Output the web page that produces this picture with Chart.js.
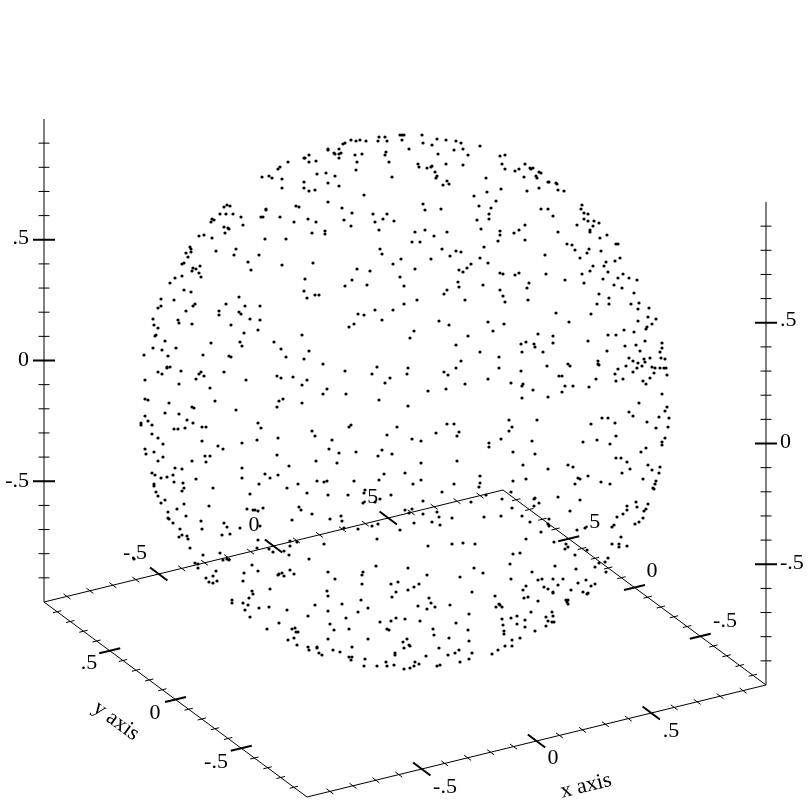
<!DOCTYPE html>
<html>
<head>
<meta charset="utf-8">
<title>Points on a sphere</title>
<script src="https://cdn.jsdelivr.net/npm/chart.js@4/dist/chart.umd.min.js"></script>
<style>
  html, body { margin: 0; padding: 0; background: #fff; }
  canvas { display: block; }
</style>
</head>
<body>
<canvas id="sphere" width="812" height="812"></canvas>
<script>
// Dots, in projected plot units, grouped by region
const dotsTopLeft = [[309,155],[305,158],[304,158],[309,162],[288,162],[280,167],[278,169],[262,177],[269,176],[272,178],[282,179],[304,182],[304,188],[282,188],[309,191],[227,205],[230,206],[224,207],[296,206],[299,207],[266,209],[266,210],[220,214],[226,214],[233,214],[241,217],[261,217],[263,217],[280,217],[212,219],[214,220],[211,222],[308,219],[294,222],[243,225],[224,227],[228,228],[229,229],[225,233],[204,235],[199,236],[212,238],[265,239],[286,239],[190,247],[191,249],[191,252],[186,253],[188,257],[216,251],[236,249],[234,255],[259,255],[248,262],[184,263],[182,264],[200,266],[193,268],[196,269],[192,271],[251,270],[282,265],[199,273],[201,277],[182,276],[175,278],[170,283],[305,279],[184,290],[191,292],[304,291],[307,298],[161,299],[174,300],[239,297],[195,304],[226,304]];
const dotsTopMiddle = [[400,135],[402,135],[404,135],[422,135],[379,137],[385,137],[402,140],[437,139],[446,140],[456,141],[461,143],[423,143],[432,145],[480,146],[351,140],[356,141],[360,140],[366,141],[378,141],[387,141],[345,143],[343,144],[409,149],[454,150],[463,149],[328,149],[328,150],[339,149],[334,153],[335,154],[339,154],[341,153],[386,152],[385,155],[355,155],[362,154],[339,158],[438,154],[468,155],[357,162],[389,162],[316,161],[418,164],[419,167],[446,164],[463,165],[427,168],[431,167],[432,166],[356,170],[435,172],[317,174],[326,173],[335,176],[437,176],[436,178],[392,177],[486,178],[447,181],[449,184],[443,185],[328,183],[339,186],[315,190],[487,192],[364,195],[474,196],[328,202],[423,204],[479,206],[342,208],[425,210],[441,209],[352,213],[373,214],[387,214],[489,214],[383,219],[375,222],[344,220],[316,222],[394,221],[477,220],[489,219],[351,226],[379,230],[425,230],[415,232],[481,229],[325,231],[325,234],[312,233],[434,236],[447,232],[412,242],[420,242],[380,249],[382,254],[442,249],[456,251],[461,252],[450,256],[484,247],[480,258],[393,264],[401,259],[431,259],[313,263],[488,263],[471,264],[467,268],[459,270],[463,272],[357,269],[370,271],[415,269],[400,277],[352,280],[458,282],[459,287],[367,285],[345,286],[404,286],[483,285],[447,290],[444,294],[315,295],[319,295],[417,300],[465,300],[404,304]];
const dotsTopRight = [[500,156],[505,155],[502,164],[505,169],[525,164],[515,171],[519,169],[530,168],[531,169],[533,168],[539,172],[541,173],[524,177],[536,176],[537,178],[548,182],[549,182],[556,183],[557,184],[558,190],[564,191],[539,188],[527,191],[501,189],[496,201],[491,208],[541,209],[548,209],[553,216],[582,205],[581,209],[584,213],[588,214],[584,219],[588,221],[594,221],[599,223],[577,225],[593,226],[525,225],[519,230],[514,233],[500,231],[500,235],[498,241],[525,240],[558,232],[590,230],[590,232],[607,235],[600,238],[567,244],[572,245],[575,250],[589,249],[587,253],[601,251],[616,244],[618,244],[580,258],[545,255],[620,258],[615,261],[606,262],[604,266],[593,266],[500,273],[503,274],[515,275],[519,273],[546,274],[582,274],[590,271],[608,272],[623,274],[629,278],[618,278],[637,280],[603,279],[565,280],[529,283],[584,283],[614,285],[622,288],[527,288],[500,290],[599,294],[634,293],[503,296],[505,302],[528,300],[609,298],[597,304],[609,304],[631,304],[639,303]];
const dotsMidLeft = [[158,308],[161,306],[186,311],[193,306],[219,311],[219,315],[239,312],[241,314],[245,306],[260,306],[250,319],[260,320],[153,319],[178,320],[179,323],[192,324],[154,325],[158,328],[231,325],[258,330],[244,333],[156,335],[155,336],[302,335],[165,341],[240,342],[211,343],[274,342],[153,348],[176,348],[242,346],[281,349],[162,350],[309,351],[168,356],[144,355],[203,355],[229,356],[231,357],[286,357],[304,359],[170,367],[167,367],[167,368],[158,372],[162,374],[181,371],[201,372],[199,374],[204,376],[224,372],[196,379],[145,380],[277,376],[281,378],[293,377],[307,380],[246,380],[179,384],[302,385],[210,388],[283,399],[279,401],[145,399],[148,400],[215,401],[169,403],[302,403],[277,407],[192,407],[194,408],[236,410],[165,413],[179,414],[145,416],[187,420],[148,421],[141,423],[141,425],[152,425],[193,423],[258,423],[174,429],[178,429],[185,428],[202,427],[206,427],[261,428],[152,434],[158,438],[278,438],[202,441],[257,440],[163,444],[242,443],[218,446],[223,449],[145,449],[146,454],[154,452],[277,455],[205,456],[210,456],[163,457],[158,461],[192,461],[206,462],[289,466],[175,468],[182,469],[242,468],[152,473],[155,475],[173,475],[161,478],[167,477],[242,478],[265,474],[270,478],[278,475],[196,479],[154,484],[174,482],[183,483],[259,484],[298,484]];
const dotsMidMiddle = [[358,314],[364,315],[375,310],[393,310],[382,320],[354,324],[349,327],[439,321],[449,325],[488,322],[414,331],[410,338],[468,336],[456,345],[480,352],[461,361],[323,364],[377,367],[408,368],[456,368],[345,371],[372,374],[407,374],[444,372],[448,375],[390,378],[385,383],[488,379],[465,384],[327,389],[323,394],[346,394],[428,391],[446,389],[379,400],[408,406],[351,425],[349,427],[397,427],[447,424],[454,424],[312,431],[315,436],[387,435],[459,432],[436,433],[457,436],[332,440],[412,439],[421,441],[329,449],[339,453],[356,452],[382,450],[392,454],[378,456],[316,461],[337,463],[421,463],[457,461],[384,474],[405,473],[480,476],[317,481],[324,482],[327,481],[354,481],[379,480],[421,480],[413,484],[454,484],[480,483],[489,443],[489,447]];
const dotsMidRight = [[556,313],[591,314],[649,308],[638,309],[648,317],[656,319],[504,324],[569,322],[638,321],[652,324],[647,327],[646,329],[624,330],[634,332],[493,331],[538,334],[553,336],[608,335],[616,335],[588,341],[553,343],[526,342],[521,344],[534,344],[535,347],[645,341],[662,343],[662,348],[625,346],[636,345],[607,351],[640,351],[522,352],[543,352],[660,352],[499,357],[629,358],[633,361],[644,359],[650,358],[661,358],[665,359],[638,363],[645,362],[598,361],[598,364],[599,365],[568,364],[570,366],[547,366],[499,368],[626,366],[618,369],[637,368],[642,366],[652,367],[655,368],[660,368],[664,368],[666,368],[521,371],[633,372],[654,373],[615,374],[667,375],[559,376],[562,376],[650,378],[623,379],[616,381],[596,379],[643,381],[646,384],[511,383],[523,384],[522,386],[565,386],[573,386],[589,387],[533,390],[562,392],[522,398],[548,397],[662,394],[639,403],[667,407],[665,411],[629,412],[633,416],[659,417],[669,418],[602,418],[608,418],[509,420],[537,420],[647,422],[615,423],[591,424],[512,427],[509,431],[656,428],[668,427],[616,436],[501,439],[665,438],[532,441],[583,442],[597,440],[610,444],[662,442],[662,445],[513,452],[535,454],[646,448],[641,452],[616,458],[621,458],[627,462],[523,465],[548,469],[568,465],[573,467],[648,465],[660,467],[630,469],[652,470],[659,473],[622,473],[588,476],[578,478],[580,479],[643,479],[656,481],[513,481],[526,479],[601,482],[575,484],[610,484],[655,484]];
const dotsLowLeft = [[154,486],[156,492],[158,496],[165,500],[161,503],[184,488],[182,491],[213,488],[250,494],[287,488],[307,493],[209,506],[184,504],[177,509],[168,512],[247,509],[253,510],[255,510],[258,511],[263,508],[299,507],[301,510],[186,516],[168,518],[169,519],[173,523],[201,521],[202,529],[180,529],[224,523],[227,527],[240,528],[260,526],[292,520],[222,535],[230,534],[182,535],[187,536],[179,537],[188,539],[258,540],[190,548],[257,548],[290,546],[290,541],[297,542],[220,553],[203,555],[269,549],[273,552],[284,551],[195,563],[198,564],[198,568],[223,560],[227,559],[229,560],[289,555],[309,559],[252,565],[216,571],[244,573],[258,571],[213,576],[206,578],[209,582],[213,583],[217,581],[243,581],[278,575],[279,574],[282,573],[284,576],[290,570],[294,574],[270,589],[252,591],[253,594],[249,598],[232,600],[232,603],[243,603],[248,605],[245,610],[259,608],[269,607],[287,610],[250,617],[308,616],[279,623],[267,629],[292,629],[295,628],[296,632],[298,632],[294,638],[288,640],[297,645],[308,647],[309,650],[134,559]];
const dotsLowMiddle = [[328,495],[348,495],[364,493],[365,490],[363,503],[375,502],[380,499],[391,495],[423,501],[442,492],[479,487],[471,502],[486,495],[312,514],[330,519],[341,516],[342,521],[358,529],[344,528],[372,526],[378,524],[405,510],[412,509],[409,513],[423,514],[437,512],[439,517],[452,518],[484,517],[400,530],[414,523],[432,522],[440,525],[377,539],[324,544],[428,546],[452,544],[463,543],[475,544],[376,566],[408,568],[474,568],[328,572],[363,572],[362,575],[483,573],[427,575],[460,577],[335,579],[362,584],[391,584],[398,582],[419,584],[414,587],[408,590],[472,592],[396,592],[327,591],[328,596],[392,597],[361,600],[429,598],[431,603],[315,605],[342,604],[418,606],[435,607],[427,609],[450,605],[368,608],[358,612],[328,611],[469,614],[346,618],[380,622],[391,621],[396,618],[405,619],[420,621],[456,623],[330,624],[334,630],[349,629],[387,629],[389,630],[433,629],[468,630],[434,635],[328,639],[368,639],[449,638],[407,639],[403,642],[469,641],[409,645],[410,646],[404,648],[317,647],[317,648],[352,647],[333,650],[439,648],[340,652],[319,653],[322,655],[395,653],[395,655],[426,656],[448,655],[455,653],[459,650],[472,653],[349,657],[352,657],[351,660],[365,659],[460,662],[469,659],[386,662],[415,662],[364,666],[377,666],[387,666],[394,665],[419,664],[414,666],[437,666],[440,665],[404,669],[410,668]];
const dotsLowRight = [[511,492],[502,499],[534,499],[535,498],[558,497],[580,500],[539,503],[512,508],[534,506],[570,511],[501,516],[522,516],[549,519],[530,522],[548,524],[549,526],[577,530],[585,528],[541,532],[526,539],[554,542],[566,544],[565,549],[568,547],[587,550],[575,555],[513,554],[520,553],[510,564],[595,567],[599,563],[605,562],[608,558],[606,572],[555,566],[576,569],[532,572],[511,579],[538,580],[542,579],[553,579],[563,579],[586,580],[578,583],[558,585],[544,587],[548,589],[591,586],[595,584],[571,590],[583,592],[588,593],[587,594],[553,592],[553,593],[523,590],[526,586],[524,598],[528,597],[538,601],[495,596],[499,604],[500,605],[502,607],[496,607],[566,600],[568,600],[567,602],[568,604],[531,612],[552,612],[553,616],[546,617],[502,619],[511,618],[517,616],[525,620],[548,621],[552,622],[554,622],[503,625],[517,624],[525,627],[546,626],[504,631],[504,634],[535,631],[520,638],[512,640],[505,646],[512,646],[498,650],[492,654],[653,488],[654,489],[636,502],[627,506],[637,507],[648,504],[627,510],[646,509],[644,511],[623,514],[617,517],[643,518],[639,522],[635,524],[614,525],[612,527],[621,537],[612,544],[619,544],[619,547],[627,546]];

// Axis ticks
const majorTicks = [-0.5, 0, 0.5];
const minorTicks = [-0.9, -0.8, -0.7, -0.6, -0.4, -0.3, -0.2, -0.1, 0.1, 0.2, 0.3, 0.4, 0.6, 0.7, 0.8, 0.9];
const tickLabels = ['-.5', '0', '.5'];

const allDots = [dotsTopLeft, dotsTopMiddle, dotsTopRight, dotsMidLeft, dotsMidMiddle, dotsMidRight, dotsLowLeft, dotsLowMiddle, dotsLowRight].flat();

// Plot box projected onto the page (x, y, z all run -1..1)
function project(x, y, z) {
    return {
        x: 405 + 229.5 * x - 131.5 * y,
        y: 402 - 56 * x - 97.5 * y - 241.5 * z
    };
}

const GAP = { x: NaN, y: NaN };

// Tick segment centred on a 3D point, running along a page direction
function tickSegments(values, half, centreAt, dir) {
    const out = [];
    values.forEach(v => {
        const c = centreAt(v);
        out.push({ x: c.x - dir.x * half, y: c.y - dir.y * half });
        out.push({ x: c.x + dir.x * half, y: c.y + dir.y * half });
        out.push(GAP);
    });
    return out;
}

// Unit vectors along the box edges on the page
const alongY = { x: -0.803, y: -0.596 };
const alongX = { x: 0.972, y: -0.237 };
const alongZ = { x: 1, y: 0 };

function allTicks(values, half, zHalf) {
    return [
        ...tickSegments(values, half, v => project(v, -1, -1), alongY),
        ...tickSegments(values, half, v => project(v, 1, -1), alongY),
        ...tickSegments(values, half, v => project(-1, v, -1), alongX),
        ...tickSegments(values, half, v => project(1, v, -1), alongX),
        ...tickSegments(values, zHalf, v => project(-1, 1, v), alongZ),
        ...tickSegments(values, zHalf, v => project(1, -1, v), alongZ)
    ];
}

const floorLines = [
    project(-1, 1, -1), project(-1, -1, -1), project(1, -1, -1),
    project(1, 1, -1), project(-1, 1, -1)
];
const zLines = [
    project(-1, 1, 1), project(-1, 1, -1), GAP,
    project(1, -1, 1), project(1, -1, -1)
];

function lineSet(data, width, color) {
    return {
        data: data,
        showLine: true,
        spanGaps: false,
        pointRadius: 0,
        borderColor: color || '#000',
        borderWidth: width,
        tension: 0
    };
}

// Tick labels and axis titles, placed through the scales
const labelPlugin = {
    id: 'labels',
    afterDatasetsDraw(chart) {
        const ctx = chart.ctx;
        const sx = chart.scales.x;
        const sy = chart.scales.y;
        function put(text, x, y, angle) {
            ctx.save();
            ctx.translate(sx.getPixelForValue(x), sy.getPixelForValue(y));
            ctx.rotate((angle || 0) * Math.PI / 180);
            ctx.fillText(text, 0, 0);
            ctx.restore();
        }
        ctx.save();
        ctx.fillStyle = '#000';
        ctx.font = '22px "Liberation Serif"';
        ctx.textBaseline = 'middle';

        // left z axis
        ctx.textAlign = 'right';
        put(tickLabels[2], 29, 238);
        put(tickLabels[1], 29, 360);
        put(tickLabels[0], 29, 481);
        // right z axis
        ctx.textAlign = 'left';
        put(tickLabels[2], 780, 320);
        put(tickLabels[1], 780, 442);
        put(tickLabels[0], 780, 563);

        ctx.textAlign = 'center';
        // front x axis
        put(tickLabels[0], 445, 787);
        put(tickLabels[1], 553, 758);
        put(tickLabels[2], 671, 731);
        // back x axis
        put(tickLabels[0], 135, 553);
        put(tickLabels[1], 254, 525);
        put(tickLabels[2], 370, 497);
        // front y axis
        put(tickLabels[2], 89, 663);
        put(tickLabels[1], 155, 713);
        put(tickLabels[0], 216, 762);
        // back y axis
        put(tickLabels[2], 592, 522);
        put(tickLabels[1], 652, 571);
        put(tickLabels[0], 725, 621);

        put('x axis', 586, 786, -13.7);
        put('y axis', 116, 721, 36.5);
        ctx.restore();
    }
};

new Chart(document.getElementById('sphere').getContext('2d'), {
    type: 'scatter',
    data: {
        datasets: [
            {
                data: allDots.map(d => ({ x: d[0], y: d[1] })),
                pointRadius: 1.6,
                pointBorderWidth: 0,
                backgroundColor: '#000',
                showLine: false
            },
            lineSet(allTicks(majorTicks, 10.8, 11), 2),
            lineSet(allTicks(minorTicks, 4.3, 5.5), 1),
            lineSet(floorLines, 1),
            lineSet(zLines, 2, '#808080')
        ]
    },
    options: {
        responsive: false,
        animation: false,
        layout: { padding: 0, autoPadding: false },
        plugins: {
            legend: { display: false },
            tooltip: { enabled: false }
        },
        scales: {
            x: { type: 'linear', min: 0, max: 812, display: false },
            y: { type: 'linear', min: 0, max: 812, reverse: true, display: false }
        }
    },
    plugins: [labelPlugin]
});
</script>
</body>
</html>
